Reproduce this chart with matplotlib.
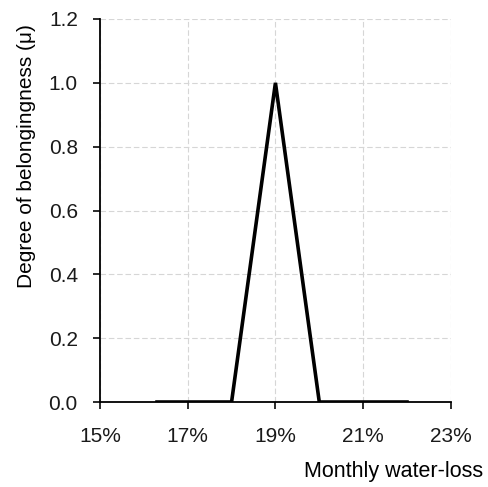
import matplotlib
matplotlib.use("Agg")
import matplotlib.pyplot as plt
from matplotlib.ticker import FuncFormatter

# membership function for monthly water-loss (fraction)
loss = [0.163, 0.18, 0.19, 0.20, 0.22]
mu = [0.0, 0.0, 1.0, 0.0, 0.0]

x_ticks = [0.15, 0.17, 0.19, 0.21, 0.23]
y_ticks = [0.0, 0.2, 0.4, 0.6, 0.8, 1.0, 1.2]

plt.rcParams['font.family'] = ['Liberation Sans', 'DejaVu Sans']

fig = plt.figure(figsize=(4.89, 4.87), dpi=100, facecolor='white')
ax = fig.add_axes([0.2045, 0.1745, 0.7175, 0.7865])

ax.plot(loss, mu, color='black', linewidth=2.6, solid_joinstyle='miter')

ax.set_xlim(0.15, 0.23)
ax.set_ylim(0, 1.2)
ax.set_xticks(x_ticks)
ax.set_yticks(y_ticks)
ax.xaxis.set_major_formatter(FuncFormatter(lambda v, p: f"{v * 100:.0f}%"))
ax.yaxis.set_major_formatter(FuncFormatter(lambda v, p: f"{v:.1f}"))

ax.grid(True, linestyle=(0, (5, 2.5)), color='#d6d6d6', linewidth=0.8)
ax.set_axisbelow(True)
for s in ['top', 'right']:
    ax.spines[s].set_visible(False)
for s in ['left', 'bottom']:
    ax.spines[s].set_linewidth(1.3)
ax.tick_params(direction='out', length=5, width=1.3, labelsize=15, colors='#1a1a1a')
ax.tick_params(axis='y', pad=11)
ax.tick_params(axis='x', pad=13)

ax.set_ylabel('Degree of belongingness (\u03bc)', fontsize=15)
ax.yaxis.set_label_coords(-0.181, 0.642)
ax.set_xlabel('Monthly water-loss', fontsize=15.5)
ax.xaxis.set_label_coords(1.091, -0.153)
ax.xaxis.label.set_horizontalalignment('right')

fig.savefig('out.png', dpi=100, facecolor='white')
